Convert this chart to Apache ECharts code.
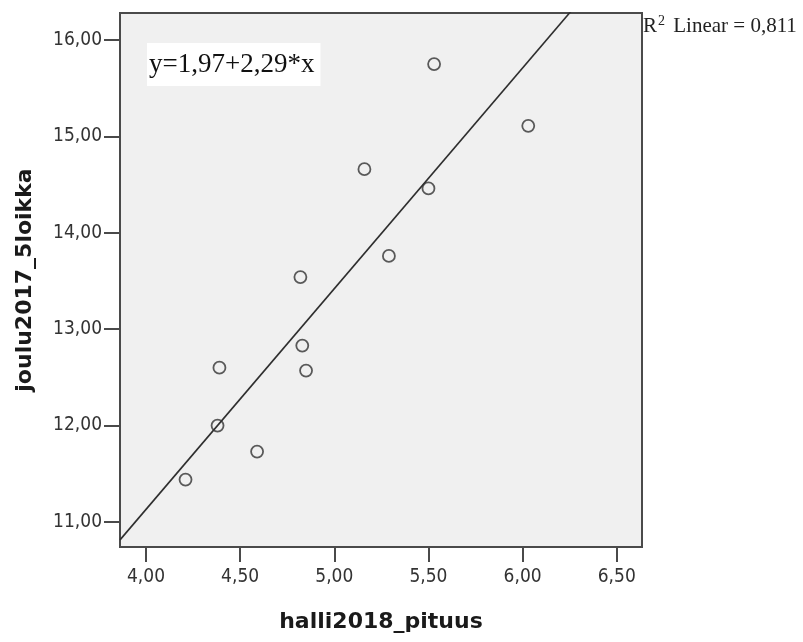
<!DOCTYPE html>
<html>
<head>
<meta charset="utf-8">
<script src="https://cdn.jsdelivr.net/npm/echarts@6/dist/echarts.min.js"></script>
<style>html,body{margin:0;padding:0;background:#fff}#c{width:803px;height:642px}</style>
</head>
<body>
<div id="c"></div>
<script>
// Data
const xValues = [4.21, 4.38, 4.59, 4.39, 4.82, 4.83, 4.85, 5.29, 5.50, 5.16, 5.53, 6.03];
const yValues = [11.44, 12.00, 11.73, 12.60, 13.54, 12.83, 12.57, 13.76, 14.46, 14.66, 15.75, 15.11];
const xTicks = [4.0, 4.5, 5.0, 5.5, 6.0, 6.5];
const yTicks = [11, 12, 13, 14, 15, 16];
const intercept = 1.97;
const slope = 2.29;
const rSquared = 0.811;
const xTitle = 'halli2018_pituus';
const yTitle = 'joulu2017_5loikka';

const xMin = 3.862, xMax = 6.634, yMin = 10.74, yMax = 16.28;
const fmt = v => v.toFixed(2).replace('.', ',');

const points = xValues.map((x, i) => [x, yValues[i]]);
const fitLine = [[xMin, intercept + slope * xMin], [xMax, intercept + slope * xMax]];
const eqText = 'y=' + fmt(intercept) + '+' + fmt(slope) + '*x';
const r2Text = '{r|R}{s|2}{r| Linear = ' + rSquared.toFixed(3).replace('.', ',') + '}';

const chart = echarts.init(document.getElementById('c'), null, {renderer: 'canvas'});
const tickLabel = {color: '#333333', fontFamily: '"DejaVu Sans Condensed", "DejaVu Sans", sans-serif', fontSize: 19};
chart.setOption({
  animation: false,
  backgroundColor: '#ffffff',
  grid: {left: 120, right: 161, top: 13, bottom: 95, outerBoundsMode: 'none', containLabel: false,
         show: true, backgroundColor: '#f0f0f0', borderColor: '#4a4a4a', borderWidth: 2},
  xAxis: {
    type: 'value', min: xMin, max: xMax,
    name: xTitle, nameLocation: 'middle', nameGap: 64,
    nameTextStyle: {fontFamily: '"DejaVu Sans", sans-serif', fontWeight: 'bold', fontSize: 22, color: '#1a1a1a'},
    axisLine: {show: true, onZero: false, lineStyle: {color: '#4a4a4a', width: 2}},
    axisTick: {show: true, length: 15, customValues: xTicks, lineStyle: {color: '#4a4a4a', width: 2}},
    axisLabel: Object.assign({customValues: xTicks, margin: 21, formatter: v => fmt(v)}, tickLabel),
    splitLine: {show: false}
  },
  yAxis: {
    type: 'value', min: yMin, max: yMax,
    name: yTitle, nameLocation: 'middle', nameGap: 84, nameRotate: 90,
    nameTextStyle: {fontFamily: '"DejaVu Sans", sans-serif', fontWeight: 'bold', fontSize: 22, color: '#1a1a1a'},
    axisLine: {show: true, onZero: false, lineStyle: {color: '#4a4a4a', width: 2}},
    axisTick: {show: true, length: 16, customValues: yTicks, lineStyle: {color: '#4a4a4a', width: 2}},
    axisLabel: Object.assign({customValues: yTicks, margin: 18, formatter: v => fmt(v)}, tickLabel),
    splitLine: {show: false}
  },
  series: [
    {
      type: 'line', data: fitLine, showSymbol: false, symbol: 'none', clip: true,
      lineStyle: {color: '#2e2e2e', width: 1.6}, z: 2, silent: true
    },
    {
      type: 'scatter', data: points, symbol: 'circle', symbolSize: 12,
      itemStyle: {color: 'rgba(0,0,0,0)', borderColor: '#333', borderWidth: 1.8}, z: 3
    }
  ],
  graphic: [
    {
      type: 'text', left: 147, top: 43, z: 10,
      style: {
        text: eqText, fill: '#111', font: '27px "Liberation Serif", "Times New Roman", serif',
        backgroundColor: '#ffffff', padding: [8, 6, 8, 2]
      }
    },
    {
      type: 'text', left: 643, top: 14, z: 10,
      style: {
        text: r2Text, fill: '#222',
        rich: {
          r: {fontFamily: '"Liberation Serif", serif', fontSize: 21, fill: '#222'},
          s: {fontFamily: '"Liberation Serif", serif', fontSize: 14, fill: '#222', verticalAlign: 'top', padding: [0, 3, 10, 1]}
        }
      }
    }
  ]
});
</script>
</body>
</html>
